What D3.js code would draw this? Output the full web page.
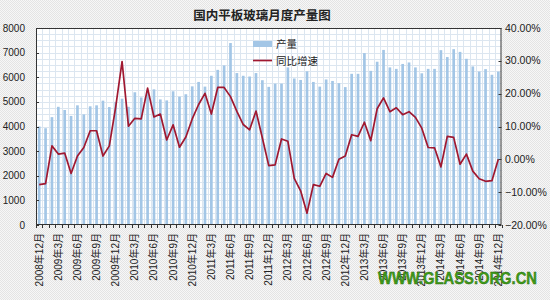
<!DOCTYPE html>
<html>
<head>
<meta charset="utf-8">
<script src="https://cdn.jsdelivr.net/npm/d3@7"></script>
<style>
  body { margin: 0; background: #f0f0f0; }
  svg { display: block; }
  text { font-family: "Liberation Sans", Arial, "Noto Sans CJK SC", sans-serif; fill: #222; }
</style>
</head>
<body>
<svg id="chart" width="550" height="300"></svg>
<script>
// monthly output (10k weight boxes) Dec 2008 .. Dec 2014
const output = [
    4000, 3930, 4380, 4800, 4670, 4430, 4860, 4490, 4820, 4860, 5050, 4790,
    5000, 5130, 4800, 5390, 5180, 5450, 5510, 5100, 5060, 5430, 5210, 5310,
    5630, 5810, 5620, 6060, 6300, 6480, 7390, 6170, 6060, 6030, 6170, 5880,
    5610, 5740, 5740, 6400, 5950, 5890, 6240, 5810, 5620, 5910, 5850, 5760,
    5600, 6140, 6140, 6980, 6260, 6630, 7110, 6400, 6340, 6540, 6600, 6400,
    6160, 6340, 6340, 7100, 6820, 7140, 7030, 6750, 6440, 6230, 6330, 6100,
    6230
];

// year-on-year growth, %
const growth = [
    -7.7, -7.4, 4.1, 1.6, 1.9, -4.3, 1.0, 3.6, 8.7, 8.7, 1.0, 4.1,
    16.0, 29.8, 10.1, 12.5, 12.3, 21.7, 12.9, 13.8, 5.9, 10.5, 3.7, 6.8,
    12.3, 16.7, 20.1, 13.8, 21.9, 21.9, 19.1, 14.6, 10.6, 9.0, 14.7, 6.5,
    -1.9, -1.7, 6.2, 5.5, -5.8, -9.6, -16.4, -7.7, -8.2, -4.3, -5.5, 0.0,
    1.0, 7.5, 7.0, 11.3, 5.7, 15.4, 18.7, 14.5, 15.7, 13.6, 14.5, 12.8,
    9.5, 3.6, 3.5, -2.3, 7.0, 6.7, -1.5, 1.6, -3.6, -5.9, -6.7, -6.5,
    0.0
];

// month categories
const months = d3.timeMonth.range(new Date(2008, 11, 1), new Date(2015, 0, 1))
    .map(d => d.getFullYear() + "年" + (d.getMonth() + 1) + "月");

const leftTicks = [0, 1000, 2000, 3000, 4000, 5000, 6000, 7000, 8000];
const rightTicks = [-20, -10, 0, 10, 20, 30, 40];

const width = 550, height = 300;
const margin = {top: 28, right: 48.5, bottom: 75, left: 36};
const svg = d3.select("#chart");

// dithered page background
const defs = svg.append("defs");
const pat = defs.append("pattern")
    .attr("id", "dots")
    .attr("width", 2).attr("height", 2)
    .attr("patternUnits", "userSpaceOnUse");
pat.append("rect").attr("width", 2).attr("height", 2).attr("fill", "#f7f7f7");
pat.append("rect").attr("width", 1).attr("height", 1).attr("fill", "#e4e4e4");
pat.append("rect").attr("x", 1).attr("y", 1).attr("width", 1).attr("height", 1).attr("fill", "#e4e4e4");
svg.append("rect").attr("width", width).attr("height", height).attr("fill", "url(#dots)");

// scales
const x = d3.scaleBand()
    .domain(months)
    .range([margin.left, width - margin.right])
    .padding(0);

const yL = d3.scaleLinear()
    .domain([0, 8000])
    .range([height - margin.bottom, margin.top]);

const yR = d3.scaleLinear()
    .domain([-20, 40])
    .range([height - margin.bottom, margin.top]);

// plot area
svg.append("rect")
    .attr("x", margin.left)
    .attr("y", margin.top)
    .attr("width", width - margin.left - margin.right)
    .attr("height", height - margin.top - margin.bottom)
    .attr("fill", "#ffffff");

// fine grid
const grid = svg.append("g").attr("stroke", "#dce6f0").attr("stroke-width", 1);
grid.selectAll("line.h")
    .data(d3.range(250, 8000, 250))
    .enter().append("line")
    .attr("x1", margin.left).attr("x2", width - margin.right)
    .attr("y1", d => Math.round(yL(d)) + 0.5)
    .attr("y2", d => Math.round(yL(d)) + 0.5);
grid.selectAll("line.v")
    .data(months.slice(1))
    .enter().append("line")
    .attr("x1", d => Math.round(x(d)) + 0.5)
    .attr("x2", d => Math.round(x(d)) + 0.5)
    .attr("y1", margin.top).attr("y2", height - margin.bottom);

// bars
const barW = x.bandwidth() * 0.42;
svg.append("g")
    .selectAll("rect")
    .data(output)
    .enter().append("rect")
    .attr("x", (d, i) => x(months[i]) + x.bandwidth() / 2 - barW / 2)
    .attr("y", d => yL(d))
    .attr("width", barW)
    .attr("height", d => yL(0) - yL(d))
    .attr("fill", "#a3c6e6");

// growth line
const line = d3.line()
    .x((d, i) => x(months[i]) + x.bandwidth() / 2)
    .y(d => yR(d));

svg.append("path")
    .datum(growth)
    .attr("d", line)
    .attr("fill", "none")
    .attr("stroke", "#a01830")
    .attr("stroke-width", 1.7)
    .attr("stroke-linejoin", "round");

// frame
svg.append("rect")
    .attr("x", margin.left + 0.5)
    .attr("y", margin.top + 0.5)
    .attr("width", width - margin.left - margin.right - 1)
    .attr("height", height - margin.top - margin.bottom - 1)
    .attr("fill", "none")
    .attr("stroke", "#333")
    .attr("stroke-width", 1);

// left axis
const leftAxis = svg.append("g");
leftAxis.selectAll("text")
    .data(leftTicks)
    .enter().append("text")
    .attr("x", 25)
    .attr("y", d => yL(d) + 3.5)
    .attr("text-anchor", "end")
    .attr("font-size", "10px")
    .text(d => d);
leftAxis.selectAll("line")
    .data(leftTicks)
    .enter().append("line")
    .attr("x1", margin.left).attr("x2", margin.left + 3)
    .attr("y1", d => Math.round(yL(d)) + 0.5).attr("y2", d => Math.round(yL(d)) + 0.5)
    .attr("stroke", "#333");

// right axis
const rightAxis = svg.append("g");
rightAxis.selectAll("text")
    .data(rightTicks)
    .enter().append("text")
    .attr("x", width - margin.right + 3.5)
    .attr("y", d => yR(d) + 3.5)
    .attr("font-size", "10.5px")
    .text(d => d3.format(".2f")(d) + "%");
rightAxis.selectAll("line")
    .data(rightTicks)
    .enter().append("line")
    .attr("x1", width - margin.right - 3).attr("x2", width - margin.right)
    .attr("y1", d => Math.round(yR(d)) + 0.5).attr("y2", d => Math.round(yR(d)) + 0.5)
    .attr("stroke", "#333");

// bottom ticks and labels
svg.append("g")
    .selectAll("line")
    .data(months.concat(["end"]))
    .enter().append("line")
    .attr("x1", (d, i) => Math.round(margin.left + i * x.step()) + 0.5)
    .attr("x2", (d, i) => Math.round(margin.left + i * x.step()) + 0.5)
    .attr("y1", height - margin.bottom)
    .attr("y2", height - margin.bottom + 3)
    .attr("stroke", "#333");

const tickLabels = months.filter((d, i) => i % 3 === 0);
svg.append("g")
    .selectAll("text")
    .data(tickLabels)
    .enter().append("text")
    .attr("transform", d => `translate(${x(d) + x.bandwidth() / 2 + 3.5}, ${height - margin.bottom + 8}) rotate(-90)`)
    .attr("text-anchor", "end")
    .attr("font-size", "10px")
    .text(d => d);

// title
svg.append("text")
    .attr("x", 262)
    .attr("y", 20)
    .attr("text-anchor", "middle")
    .attr("font-family", "'Noto Sans CJK SC', sans-serif")
    .attr("font-size", "12.5px")
    .attr("font-weight", "bold")
    .text("国内平板玻璃月度产量图");

// legend
const legend = svg.append("g").attr("transform", "translate(253, 44)");
legend.append("rect")
    .attr("x", 0).attr("y", -3)
    .attr("width", 19).attr("height", 6)
    .attr("fill", "#a3c6e6");
legend.append("text")
    .attr("x", 23).attr("y", 4)
    .attr("font-family", "'Noto Sans CJK SC', sans-serif")
    .attr("font-size", "10.5px")
    .text("产量");
legend.append("line")
    .attr("x1", 0).attr("x2", 19)
    .attr("y1", 16.5).attr("y2", 16.5)
    .attr("stroke", "#a01830")
    .attr("stroke-width", 1.7);
legend.append("text")
    .attr("x", 23).attr("y", 20.5)
    .attr("font-family", "'Noto Sans CJK SC', sans-serif")
    .attr("font-size", "10.5px")
    .text("同比增速");

// watermark
svg.append("text")
    .attr("x", 378)
    .attr("y", 284)
    .attr("font-size", "16px")
    .attr("font-weight", "bold")
    .attr("textLength", 159)
    .attr("lengthAdjust", "spacingAndGlyphs")
    .style("fill", "#3f9c18")
    .attr("stroke", "#2a6a10")
    .attr("stroke-width", 0.4)
    .text("WWW.GLASS.ORG.CN");
</script>
</body>
</html>
